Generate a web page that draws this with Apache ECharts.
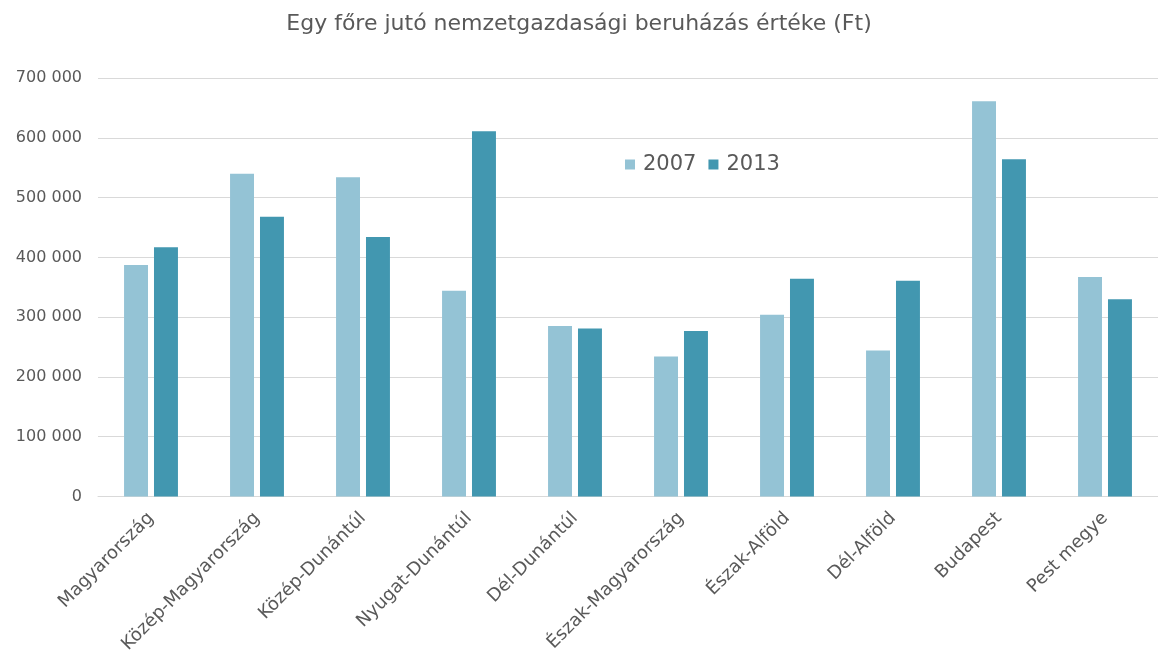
<!DOCTYPE html>
<html><head><meta charset="utf-8">
<script src="https://cdn.jsdelivr.net/npm/echarts@6/dist/echarts.min.js"></script>
<style>html,body{margin:0;padding:0;background:#fff}#c{width:1158px;height:656px}</style>
</head><body><div id="c"></div>
<script>
const categories = ['Magyarország','Közép-Magyarország','Közép-Dunántúl','Nyugat-Dunántúl','Dél-Dunántúl','Észak-Magyarország','Észak-Alföld','Dél-Alföld','Budapest','Pest megye'];
const values2007 = [387000, 540000, 534000, 344000, 285000, 234000, 304000, 244000, 661000, 367000];
const values2013 = [417000, 468000, 434000, 611000, 281000, 277000, 364000, 361000, 564000, 330000];
const seriesNames = ['2007', '2013'];
const titleText = 'Egy főre jutó nemzetgazdasági beruházás értéke (Ft)';

const font = "'DejaVu Sans', sans-serif";
const chart = echarts.init(document.getElementById('c'), null, {renderer: 'canvas'});
chart.setOption({
  animation: false,
  backgroundColor: '#fff',
  title: {
    text: titleText, left: 'center', top: 8,
    textStyle: {fontFamily: font, fontSize: 22, fontWeight: 'normal', color: '#595959'}
  },
  legend: {
    data: seriesNames, left: 620, top: 149, itemWidth: 10, itemHeight: 10, itemGap: 12,
    icon: 'rect',
    textStyle: {fontFamily: font, fontSize: 21, color: '#595959', padding: [0,0,0,3]}
  },
  grid: {left: 98, right: -4, top: 78, bottom: 158, containLabel: false},
  xAxis: {
    type: 'category', data: categories,
    axisLine: {lineStyle: {color: '#d9d9d9', width: 1}},
    axisTick: {show: false},
    axisLabel: {rotate: 45, interval: 0, fontFamily: font, fontSize: 18, color: '#595959', margin: 19}
  },
  yAxis: {
    type: 'value', min: 0, max: 700000, interval: 100000,
    axisLine: {show: false}, axisTick: {show: false},
    splitLine: {lineStyle: {color: '#d9d9d9', width: 1}},
    axisLabel: {
      fontFamily: font, fontSize: 16, color: '#595959', margin: 16,
      formatter: v => v === 0 ? '0' : String(v).replace(/\B(?=(\d{3})+(?!\d))/g, ' ')
    }
  },
  series: [
    {name: seriesNames[0], type: 'bar', data: values2007, barWidth: '22.6%', barGap: '25%', itemStyle: {color: '#94c3d5'}},
    {name: seriesNames[1], type: 'bar', data: values2013, barWidth: '22.6%', barGap: '25%', itemStyle: {color: '#4297b0'}}
  ]
});
</script></body></html>
